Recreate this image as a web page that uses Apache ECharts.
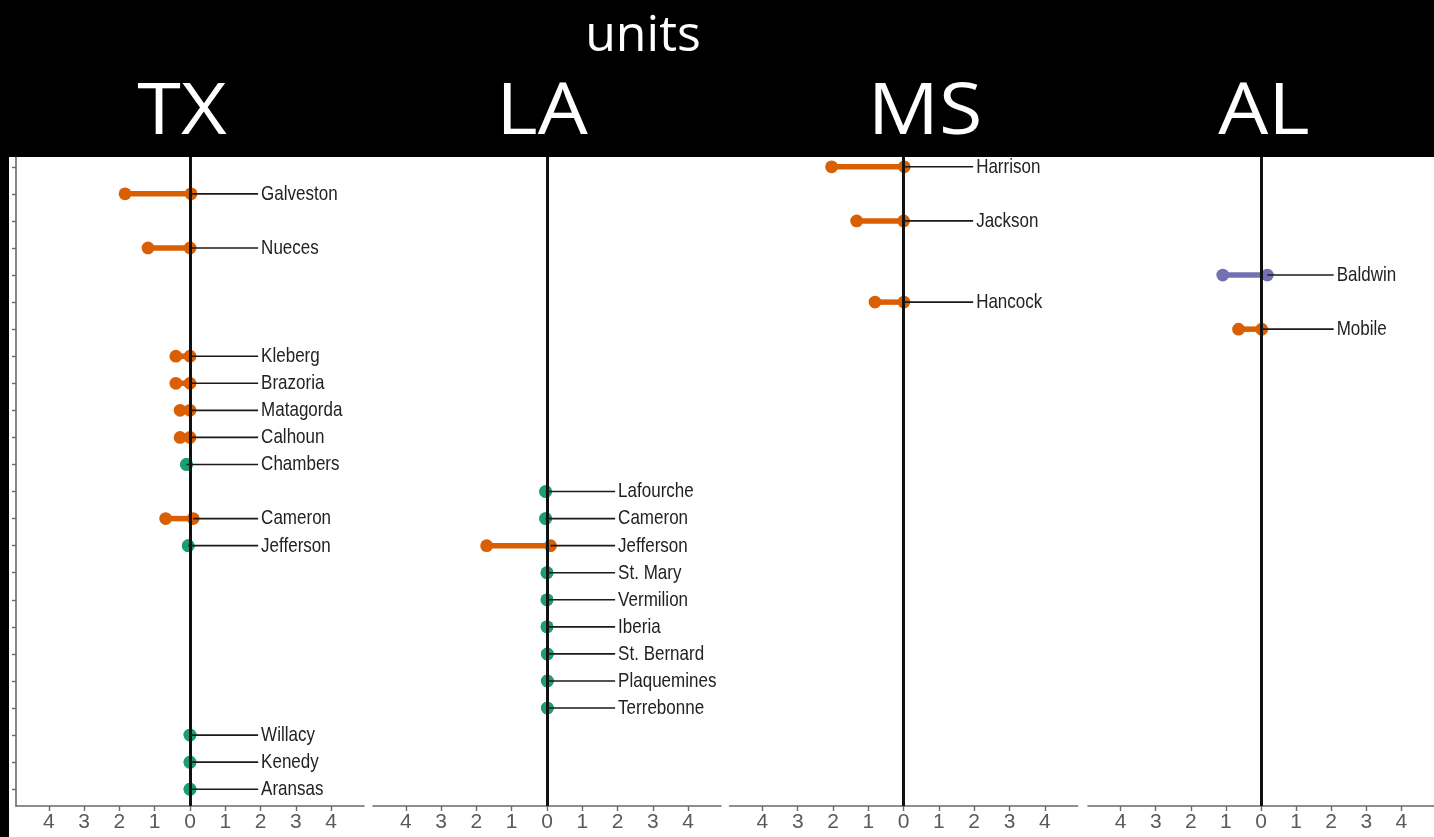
<!DOCTYPE html>
<html>
<head>
<meta charset="utf-8">
<script src="https://cdn.jsdelivr.net/npm/echarts@6/dist/echarts.min.js"></script>
<style>
  html, body { margin: 0; padding: 0; background: #fff; }
  #chart { width: 1434px; height: 837px; }
</style>
</head>
<body>
<div id="chart"></div>
<script>
// ---- Data ----
const headerTitle = 'units';
const stateNames = ['TX', 'LA', 'MS', 'AL'];

// shared county axis (rows, top to bottom)
const counties = ['Harrison', 'Galveston', 'Jackson', 'Nueces', 'Baldwin', 'Hancock', 'Mobile',
  'Kleberg', 'Brazoria', 'Matagorda', 'Calhoun', 'Chambers', 'Lafourche', 'Cameron', 'Jefferson',
  'St. Mary', 'Vermilion', 'Iberia', 'St. Bernard', 'Plaquemines', 'Terrebonne', 'Willacy', 'Kenedy', 'Aransas'];

const xTickValues = [-4, -3, -2, -1, 0, 1, 2, 3, 4];

const txCounties = ['Galveston', 'Nueces', 'Kleberg', 'Brazoria', 'Matagorda', 'Calhoun', 'Chambers', 'Cameron', 'Jefferson', 'Willacy', 'Kenedy', 'Aransas'];
const txFrom = [-1.84, -1.19, -0.40, -0.40, -0.28, -0.28, -0.10, -0.69, -0.05, 0.00, 0.00, 0.00];
const txTo   = [0.03, 0.00, 0.00, 0.00, 0.00, 0.00, -0.10, 0.09, -0.05, 0.00, 0.00, 0.00];
const txGroup = ['decline', 'decline', 'decline', 'decline', 'decline', 'decline', 'stable', 'decline', 'stable', 'stable', 'stable', 'stable'];

const laCounties = ['Lafourche', 'Cameron', 'Jefferson', 'St. Mary', 'Vermilion', 'Iberia', 'St. Bernard', 'Plaquemines', 'Terrebonne'];
const laFrom = [-0.04, -0.04, -1.71, 0.00, 0.00, 0.00, 0.01, 0.01, 0.01];
const laTo   = [-0.04, -0.04, 0.10, 0.00, 0.00, 0.00, 0.01, 0.01, 0.01];
const laGroup = ['stable', 'stable', 'decline', 'stable', 'stable', 'stable', 'stable', 'stable', 'stable'];

const msCounties = ['Harrison', 'Jackson', 'Hancock'];
const msFrom = [-2.04, -1.33, -0.81];
const msTo   = [0.02, 0.00, 0.01];
const msGroup = ['decline', 'decline', 'decline'];

const alCounties = ['Baldwin', 'Mobile'];
const alFrom = [-1.09, -0.64];
const alTo   = [0.18, 0.02];
const alGroup = ['mixed', 'decline'];

// ---- Styling / layout ----
const groupColors = { decline: '#D95F02', stable: '#1B9E77', mixed: '#7570B3' };
const panels = [
  { names: txCounties, from: txFrom, to: txTo, group: txGroup, left: 16, labelX: 1.93 },
  { names: laCounties, from: laFrom, to: laTo, group: laGroup, left: 373, labelX: 1.93 },
  { names: msCounties, from: msFrom, to: msTo, group: msGroup, left: 729.6, labelX: 1.97 },
  { names: alCounties, from: alFrom, to: alTo, group: alGroup, left: 1088, labelX: 2.07 }
];
const titleX = [182, 542, 925, 1264];
const X_MIN = -4.93, X_MAX = 4.93, PANEL_W = 348;
const GRID_TOP = 150, GRID_H = 656;

const grids = [], xAxes = [], yAxes = [], series = [];

panels.forEach((p, i) => {
  grids.push({ left: p.left, top: GRID_TOP, width: PANEL_W, height: GRID_H, containLabel: false });
  xAxes.push({
    gridIndex: i, type: 'value', min: X_MIN, max: X_MAX,
    axisLine: { show: true, onZero: false, lineStyle: { color: '#6a6a6a', width: 1.6 } },
    axisTick: { show: true, customValues: xTickValues, length: 5, lineStyle: { color: '#6a6a6a', width: 1.4 } },
    axisLabel: { show: true, customValues: xTickValues, formatter: v => String(Math.abs(v)),
      color: '#5a5a5a', fontSize: 21, fontFamily: 'Liberation Sans, Arial, sans-serif', margin: 6 },
    splitLine: { show: false }
  });
  yAxes.push({
    gridIndex: i, type: 'value', inverse: true, min: -0.62, max: 23.62,
    show: i === 0,
    axisLine: { show: i === 0, onZero: false, lineStyle: { color: '#6a6a6a', width: 1.6 } },
    axisTick: { show: i === 0, customValues: counties.map((c, k) => k), length: 4, lineStyle: { color: '#6a6a6a', width: 1.4 } },
    axisLabel: { show: false },
    splitLine: { show: false }
  });

  const data = p.names.map((n, k) => [p.from[k], p.to[k], counties.indexOf(n), k]);

  // dumbbells
  series.push({
    type: 'custom', xAxisIndex: i, yAxisIndex: i, z: 2, silent: true,
    data: data,
    encode: { x: [0, 1], y: 2 },
    renderItem: (params, api) => {
      const k = api.value(3);
      const color = groupColors[p.group[k]];
      const a = api.coord([api.value(0), api.value(2)]);
      const b = api.coord([api.value(1), api.value(2)]);
      const r = 6.4;
      return {
        type: 'group',
        children: [
          { type: 'line', shape: { x1: a[0], y1: a[1], x2: b[0], y2: b[1] }, style: { stroke: color, lineWidth: 5.5 } },
          { type: 'circle', shape: { cx: a[0], cy: a[1], r: r }, style: { fill: color } },
          { type: 'circle', shape: { cx: b[0], cy: b[1], r: r }, style: { fill: color } }
        ]
      };
    }
  });

  // labels with leader lines + zero line
  series.push({
    type: 'custom', xAxisIndex: i, yAxisIndex: i, z: 5, silent: true,
    data: data,
    encode: { x: 1, y: 2 },
    renderItem: (params, api) => {
      const k = api.value(3);
      const s = api.coord([api.value(1), api.value(2)]);
      const e = api.coord([p.labelX, api.value(2)]);
      return {
        type: 'group',
        children: [
          { type: 'line', shape: { x1: s[0], y1: s[1], x2: e[0], y2: e[1] }, style: { stroke: '#1a1a1a', lineWidth: 1.6 } },
          { type: 'text', x: e[0] + 3, y: e[1] + 0.5, scaleY: 1.15,
            style: { text: p.names[k], fill: '#222', font: '17px "Liberation Sans", Arial, sans-serif', align: 'left', verticalAlign: 'middle' } }
        ]
      };
    },
    markLine: {
      silent: true, symbol: ['none', 'none'], label: { show: false },
      lineStyle: { color: '#111', width: 3, type: 'solid' },
      data: [{ xAxis: 0 }]
    }
  });
});

const graphics = [
  { type: 'rect', x: 0, y: 0, shape: { width: 1434, height: 157 }, style: { fill: '#000' }, z: 100 },
  { type: 'rect', x: 0, y: 0, shape: { width: 9, height: 837 }, style: { fill: '#000' }, z: 100 },
  { type: 'text', x: 643, y: 37, z: 101,
    style: { text: headerTitle, fill: '#fff', font: '50px "Open Sans", sans-serif', align: 'center', verticalAlign: 'middle' } }
];
stateNames.forEach((s, i) => {
  graphics.push({ type: 'text', x: titleX[i], y: 113, scaleX: 1.1, z: 101,
    style: { text: s, fill: '#fff', font: '72px "Open Sans", sans-serif', align: 'center', verticalAlign: 'middle' } });
});

const chart = echarts.init(document.getElementById('chart'), null, { renderer: 'canvas' });
chart.setOption({
  animation: false,
  backgroundColor: '#fff',
  grid: grids,
  xAxis: xAxes,
  yAxis: yAxes,
  series: series,
  graphic: graphics
});
</script>
</body>
</html>
